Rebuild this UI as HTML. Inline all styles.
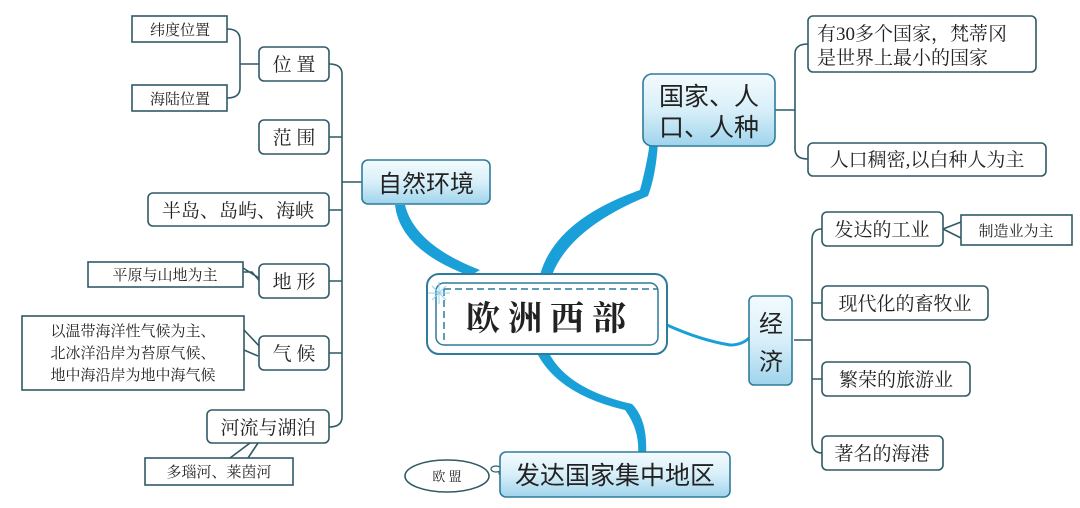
<!DOCTYPE html>
<html><head><meta charset="utf-8"><style>
html,body{margin:0;padding:0;background:#fff;width:1080px;height:508px;overflow:hidden}
text{font-family:"Liberation Serif","Noto Serif CJK SC",serif;fill:#222}
.s{font-family:"Liberation Sans","Noto Sans CJK SC",sans-serif}
</style></head><body>
<svg width="1080" height="508" viewBox="0 0 1080 508" xmlns="http://www.w3.org/2000/svg">
<defs>
<linearGradient id="g" x1="0" y1="0" x2="0" y2="1">
<stop offset="0" stop-color="#f4fbfe"/><stop offset="0.5" stop-color="#d8eff9"/><stop offset="1" stop-color="#9fd4ec"/></linearGradient>
</defs>
<g fill="none" stroke="#2f5a66" stroke-width="1.6">
<path d="M329 64 Q342 64 342 74 L342 417 Q342 427 329 427"/>
<path d="M329 137 H342 M329 210 H342 M329 281 H342 M329 353 H342 M342 182 H362"/>
<path d="M227 29 Q240 29 240 40 L240 88 Q240 98 227 98 M240 64 H259"/>
<path d="M243 272 L252 272 L262 284 M243 268 L259 278"/>
<path d="M244 330 L263 350 M244 350 L258 356"/>
<path d="M230 458 L250 443 M248 458 L258 443"/>
<path d="M808 44 Q795 44 795 54 L795 149 Q795 159 808 159 M775 110 H795"/>
<path d="M822 229 Q812 229 812 240 L812 441 Q812 453 822 453 M812 303 Q812 303 822 303 M812 379 H822 M794 340 H812"/>
<path d="M943 229 L961 222 M943 229 L961 238"/>
</g>
<g fill="#1aa0d8" stroke="none">
<path d="M395 205 Q400 250 470 276 L480 270 Q415 245 405 205 Z"/>
<path d="M540 275 Q555 220 640 190 Q648 160 650 140 L658 142 Q656 175 648 196 Q570 228 552 275 Z"/>
<path d="M538 355 Q560 395 625 410 Q640 430 638 455 L646 455 Q648 420 632 404 Q570 390 550 355 Z"/>
</g>
<path d="M667 325 Q700 340 730 345 Q742 345 749 338" fill="none" stroke="#1aa0d8" stroke-width="3"/>
<ellipse cx="496" cy="469" rx="5" ry="3" fill="none" stroke="#2f5a66" stroke-width="1.2"/>
<ellipse cx="503" cy="473" rx="4" ry="3" fill="none" stroke="#2f5a66" stroke-width="1.2"/>
<ellipse cx="447" cy="476" rx="42" ry="16" fill="#fff" stroke="#2f5a66" stroke-width="1.6"/>
<text x="447" y="481" font-size="13" text-anchor="middle">欧 盟</text>
<g fill="#fff" stroke="#2f5a66" stroke-width="1.6">
<rect x="132" y="16" width="95" height="26"/>
<rect x="132" y="85" width="95" height="26"/>
<rect x="88" y="262" width="155" height="25"/>
<rect x="22" y="316" width="222" height="74"/>
<rect x="145" y="458" width="148" height="27"/>
<rect x="961" y="215" width="111" height="30"/>
</g>
<g font-size="15" text-anchor="middle">
<text x="180" y="35">纬度位置</text>
<text x="180" y="104">海陆位置</text>
<text x="165" y="280">平原与山地为主</text>
<text x="133" y="336">以温带海洋性气候为主、</text>
<text x="133" y="358">北冰洋沿岸为苔原气候、</text>
<text x="133" y="380">地中海沿岸为地中海气候</text>
<text x="219" y="477">多瑙河、莱茵河</text>
<text x="1016" y="236">制造业为主</text>
</g>
<g fill="#fff" stroke="#2f5a66" stroke-width="1.6">
<rect x="259" y="47" width="70" height="34" rx="5"/>
<rect x="259" y="120" width="70" height="34" rx="5"/>
<rect x="148" y="193" width="181" height="33" rx="5"/>
<rect x="259" y="264" width="70" height="34" rx="5"/>
<rect x="259" y="336" width="70" height="34" rx="5"/>
<rect x="207" y="410" width="122" height="33" rx="5"/>
<rect x="808" y="16" width="228" height="56" rx="5"/>
<rect x="808" y="143" width="238" height="33" rx="5"/>
<rect x="822" y="212" width="121" height="34" rx="5"/>
<rect x="822" y="286" width="166" height="34" rx="5"/>
<rect x="822" y="362" width="148" height="34" rx="5"/>
<rect x="822" y="436" width="121" height="34" rx="5"/>
</g>
<g font-size="19" text-anchor="middle">
<text x="294" y="71">位 置</text>
<text x="294" y="144">范 围</text>
<text x="238" y="217">半岛、岛屿、海峡</text>
<text x="294" y="288">地 形</text>
<text x="294" y="360">气 候</text>
<text x="268" y="434">河流与湖泊</text>
<text x="882" y="236">发达的工业</text>
<text x="905" y="310">现代化的畜牧业</text>
<text x="896" y="386">繁荣的旅游业</text>
<text x="882" y="460">著名的海港</text>
<text x="927" y="166" font-size="19">人口稠密,以白种人为主</text>
</g>
<g font-size="19">
<text x="817" y="40">有30多个国家，梵蒂冈</text>
<text x="817" y="64">是世界上最小的国家</text>
</g>
<g fill="url(#g)" stroke="#2f7c9a" stroke-width="1.6">
<rect x="362" y="160" width="128" height="44" rx="6"/>
<rect x="643" y="74" width="132" height="72" rx="9"/>
<rect x="749" y="296" width="43" height="89" rx="5"/>
<rect x="500" y="452" width="230" height="45" rx="6"/>
</g>
<g class="s" text-anchor="middle">
<text x="426" y="192" font-size="24" class="s">自然环境</text>
<text x="709" y="105" font-size="25" class="s">国家、人</text>
<text x="709" y="136" font-size="25" class="s">口、人种</text>
<text x="771" y="332" font-size="24" class="s">经</text>
<text x="771" y="370" font-size="24" class="s">济</text>
<text x="615" y="484" font-size="25" class="s">发达国家集中地区</text>
</g>
<rect x="427" y="274" width="240" height="80" rx="12" fill="#fff" stroke="#2f7c9a" stroke-width="2"/>
<rect x="436" y="283" width="222" height="62" rx="8" fill="none" stroke="#2f7c9a" stroke-width="1.5"/>
<path d="M444 289 H658 M444 289 V340" fill="none" stroke="#2f7c9a" stroke-width="1.5" stroke-dasharray="7,4"/>
<text x="550" y="330" font-size="34" text-anchor="middle" font-weight="bold" letter-spacing="8">欧洲西部</text>
<g stroke="#8fd3f0" stroke-width="1"><path d="M432 286 L446 300 M446 286 L432 300 M439 282 V304 M428 293 H450"/></g>
</svg>
</body></html>
